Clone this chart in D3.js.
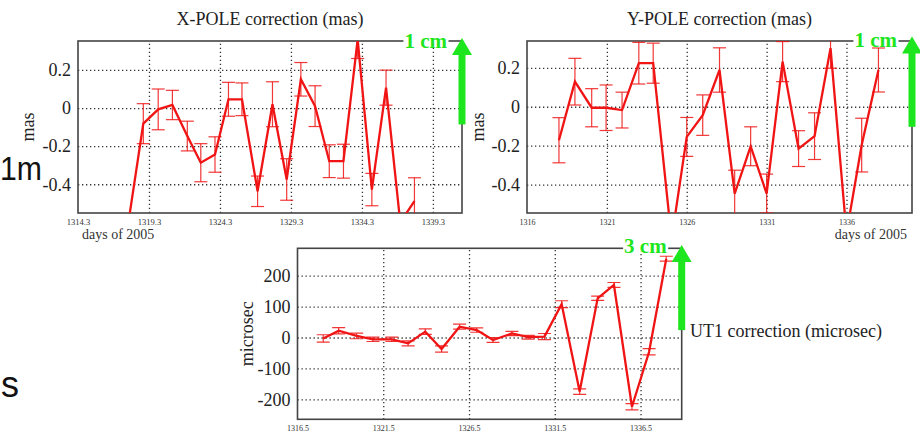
<!DOCTYPE html>
<html>
<head>
<meta charset="utf-8">
<script src="https://cdn.jsdelivr.net/npm/d3@7"></script>
<style>
  body { margin: 0; background: #fff; }
  svg { display: block; }
</style>
</head>
<body>
<svg id="chart" width="920" height="436"></svg>
<script>
// ---- X-POLE correction (mas) ----
var xpDays = [1317.75, 1318.9, 1319.95, 1320.95, 1322, 1322.95, 1323.95, 1324.9, 1325.85, 1326.95,
              1328, 1329, 1330, 1331, 1332, 1333, 1334, 1335, 1336, 1337, 1338];
var xpVals = [-0.65, -0.082, -0.007, 0.016, -0.147, -0.287, -0.244, 0.046, 0.046, -0.437,
              0.02, -0.375, 0.151, 0.01, -0.279, -0.279, 0.36, -0.428, 0.107, -0.6, -0.489];
var xpErrs = [0.08, 0.105, 0.107, 0.077, 0.078, 0.1, 0.093, 0.089, 0.086, 0.08,
              0.118, 0.109, 0.088, 0.107, 0.086, 0.089, 0.1, 0.085, 0.092, 0.03, 0.123];
var xpDayTicks = [1314.3, 1319.3, 1324.3, 1329.3, 1334.3, 1339.3];
var xpValTicks = [0.2, 0, -0.2, -0.4];

// ---- Y-POLE correction (mas) ----
var ypDays = [1318, 1319, 1320.05, 1320.95, 1321.95, 1323, 1323.9, 1325.05, 1326, 1327,
              1328.05, 1329, 1330, 1331, 1332, 1333, 1334, 1335, 1336, 1336.95, 1338];
var ypVals = [-0.172, 0.129, -0.005, -0.005, -0.017, 0.224, 0.224, -0.68, -0.155, -0.043,
              0.189, -0.446, -0.203, -0.446, 0.232, -0.215, -0.151, 0.301, -0.65, -0.197, 0.189];
var ypErrs = [0.116, 0.12, 0.098, 0.117, 0.092, 0.107, 0.103, 0.1, 0.1, 0.104,
              0.114, 0.12, 0.1, 0.1, 0.103, 0.092, 0.12, 0.103, 0.1, 0.138, 0.113];
var ypDayTicks = [1316, 1321, 1326, 1331, 1336];
var ypValTicks = [0.2, 0, -0.2, -0.4];

// ---- UT1 correction (microsec) ----
var utDays = [1318, 1318.9, 1319.95, 1320.9, 1322, 1322.95, 1323.95, 1324.9, 1325.95, 1326.95,
              1327.9, 1329, 1329.95, 1330.9, 1331.9, 1332.95, 1334, 1334.95, 1336, 1337, 1338];
var utVals = [-3, 22, 5, -6, -6, -19, 19, -37, 35, 24,
              -8, 13, 1, 3, 108, -175, 127, 170, -224, -46, 255];
var utErrs = [12, 10, 9, 7, 7, 8, 9, 10, 8, 7,
              8, 7, 6, 10, 11, 9, 7, 8, 10, 10, 8];
var utDayTicks = [1316.5, 1321.5, 1326.5, 1331.5, 1336.5];
var utValTicks = [200, 100, 0, -100, -200];

// scale arrows (value at tail, value at tip) and their labels
var arrowLabels = ['1 cm', '1 cm', '3 cm'];
var arrowSpans = [[-0.086, 0.368], [-0.103, 0.361], [24, 299]];

var serif = '"Liberation Serif", "Times New Roman", serif';
var sans = '"Liberation Sans", Arial, sans-serif';
var red = '#f01414';
var green = '#1ee61e';

var svg = d3.select('#chart');
var defs = svg.append('defs');

function zip(days, vals, errs) {
    return days.map(function(d, i){ return {day: d, val: vals[i], err: errs[i]}; });
}

function drawPanel(p, idx) {
    var x = d3.scaleLinear().domain(p.xDomain).range([p.left, p.right]);
    var y = d3.scaleLinear().domain(p.yDomain).range([p.bottom, p.top]);
    var g = svg.append('g');

    // dotted grid
    var vgrid = g.append('g')
        .attr('transform', 'translate(0,' + p.bottom + ')')
        .call(d3.axisBottom(x).tickValues(p.xTicks.slice(1)).tickSize(-(p.bottom - p.top)).tickFormat(''));
    var hgrid = g.append('g')
        .attr('transform', 'translate(' + p.left + ',0)')
        .call(d3.axisLeft(y).tickValues(p.yTicks).tickSize(-(p.right - p.left)).tickFormat(''));
    [vgrid, hgrid].forEach(function(ax){
        ax.select('.domain').remove();
        ax.selectAll('line')
            .attr('stroke', '#333')
            .attr('stroke-width', 1.3)
            .attr('stroke-dasharray', '1.3,2.7');
    });

    // frame
    g.append('rect')
        .attr('x', p.left).attr('y', p.top)
        .attr('width', p.right - p.left).attr('height', p.bottom - p.top)
        .attr('fill', 'none').attr('stroke', '#444').attr('stroke-width', 1.6);

    // tick labels
    var yAx = g.append('g')
        .attr('transform', 'translate(' + (p.left - 7) + ',0)')
        .call(d3.axisLeft(y).tickValues(p.yTicks).tickSize(0).tickPadding(0)
            .tickFormat(function(d){ return String(d); }));
    yAx.select('.domain').remove();
    yAx.selectAll('text')
        .attr('font-family', serif).attr('font-size', 18).attr('fill', '#222');

    var xAx = g.append('g')
        .attr('transform', 'translate(0,' + (p.bottom + 6) + ')')
        .call(d3.axisBottom(x).tickValues(p.xTicks).tickSize(0).tickPadding(0)
            .tickFormat(function(d){ return String(d); }));
    xAx.select('.domain').remove();
    xAx.selectAll('text')
        .attr('font-family', serif).attr('font-size', p.xTickSize).attr('fill', '#333');

    // axis title
    g.append('text')
        .attr('transform', 'translate(' + p.yLabelX + ',' + ((p.top + p.bottom) / 2) + ') rotate(-90)')
        .attr('text-anchor', 'middle')
        .attr('font-family', serif).attr('font-size', 18).attr('fill', '#222')
        .text(p.yLabel);

    // data
    defs.append('clipPath').attr('id', 'clip' + idx)
        .append('rect')
        .attr('x', p.left).attr('y', p.top)
        .attr('width', p.right - p.left).attr('height', p.bottom - p.top);
    var plot = g.append('g').attr('clip-path', 'url(#clip' + idx + ')');
    var data = p.data;

    var bars = plot.selectAll('g.err').data(data).enter().append('g').attr('class', 'err')
        .attr('stroke', red).attr('stroke-width', 1.2).attr('stroke-opacity', 0.85);
    bars.append('line')
        .attr('x1', function(d){ return x(d.day); }).attr('x2', function(d){ return x(d.day); })
        .attr('y1', function(d){ return y(d.val + d.err); }).attr('y2', function(d){ return y(d.val - d.err); });
    bars.append('line')
        .attr('x1', function(d){ return x(d.day) - 6.5; }).attr('x2', function(d){ return x(d.day) + 6.5; })
        .attr('y1', function(d){ return y(d.val + d.err); }).attr('y2', function(d){ return y(d.val + d.err); });
    bars.append('line')
        .attr('x1', function(d){ return x(d.day) - 6.5; }).attr('x2', function(d){ return x(d.day) + 6.5; })
        .attr('y1', function(d){ return y(d.val - d.err); }).attr('y2', function(d){ return y(d.val - d.err); });

    plot.append('path')
        .datum(data)
        .attr('fill', 'none').attr('stroke', red).attr('stroke-width', 2.3)
        .attr('stroke-linejoin', 'miter')
        .attr('d', d3.line().x(function(d){ return x(d.day); }).y(function(d){ return y(d.val); }));

    // green scale arrow on the right frame
    var span = arrowSpans[idx];
    var ax = p.right;
    var tipY = y(span[1]);
    var baseY = tipY + 17;
    g.append('rect')
        .attr('x', ax - 3.5).attr('y', baseY - 1)
        .attr('width', 7).attr('height', y(span[0]) - baseY + 1)
        .attr('fill', green);
    g.append('path')
        .attr('d', 'M' + (ax - 10) + ',' + baseY + 'L' + (ax + 10) + ',' + baseY + 'L' + ax + ',' + tipY + 'Z')
        .attr('fill', green);

    // label on the frame top, with white background hiding the frame
    var lbl = g.append('text')
        .attr('x', ax - 15).attr('y', p.top + p.cmDy)
        .attr('text-anchor', 'end')
        .attr('font-family', serif).attr('font-weight', 'bold').attr('font-size', 21)
        .attr('fill', green)
        .text(arrowLabels[idx]);
    var bb = lbl.node().getBBox();
    g.insert('rect', function(){ return lbl.node(); })
        .attr('x', bb.x - 1).attr('y', p.top - 3)
        .attr('width', bb.width + 2).attr('height', 6)
        .attr('fill', '#fff');

    return g;
}

var panels = [
    {left: 78, right: 462, top: 41, bottom: 213,
     xDomain: [1314.3, 1341.35], yDomain: [-0.551, 0.352],
     xTicks: xpDayTicks, yTicks: xpValTicks, xTickSize: 8.5,
     yLabel: 'mas', yLabelX: 34, cmDy: 7,
     data: zip(xpDays, xpVals, xpErrs)},
    {left: 527, right: 912, top: 41, bottom: 213,
     xDomain: [1316, 1340.1], yDomain: [-0.546, 0.338],
     xTicks: ypDayTicks, yTicks: ypValTicks, xTickSize: 8,
     yLabel: 'mas', yLabelX: 484, cmDy: 6,
     data: zip(ypDays, ypVals, ypErrs)},
    {left: 297.5, right: 681.7, top: 248.3, bottom: 419.3,
     xDomain: [1316.5, 1338.9], yDomain: [-264.7, 288.7],
     xTicks: utDayTicks, yTicks: utValTicks, xTickSize: 8,
     yLabel: 'microsec', yLabelX: 253, cmDy: 4.5,
     data: zip(utDays, utVals, utErrs)}
];

panels.forEach(function(p, i){ drawPanel(p, i); });

// titles
svg.append('text').attr('x', 270).attr('y', 25).attr('text-anchor', 'middle')
    .attr('font-family', serif).attr('font-size', 18).attr('fill', '#222')
    .text('X-POLE correction (mas)');
svg.append('text').attr('x', 719.5).attr('y', 25).attr('text-anchor', 'middle')
    .attr('font-family', serif).attr('font-size', 18).attr('fill', '#222')
    .text('Y-POLE correction (mas)');
svg.append('text').attr('x', 690).attr('y', 337).attr('text-anchor', 'start')
    .attr('font-family', serif).attr('font-size', 18).attr('fill', '#222')
    .text('UT1 correction (microsec)');

// x axis captions
svg.append('text').attr('x', 82).attr('y', 239)
    .attr('font-family', serif).attr('font-size', 14).attr('fill', '#333')
    .text('days of 2005');
svg.append('text').attr('x', 907).attr('y', 239).attr('text-anchor', 'end')
    .attr('font-family', serif).attr('font-size', 14).attr('fill', '#333')
    .text('days of 2005');

// stray slide text at the left edge
svg.append('text').attr('x', 0).attr('y', 180)
    .attr('font-family', sans).attr('font-size', 33).attr('fill', '#111')
    .attr('textLength', 42).attr('lengthAdjust', 'spacingAndGlyphs')
    .text('1m');
svg.append('text').attr('x', 1).attr('y', 397)
    .attr('font-family', sans).attr('font-size', 36).attr('fill', '#111')
    .text('s');
</script>
</body>
</html>
